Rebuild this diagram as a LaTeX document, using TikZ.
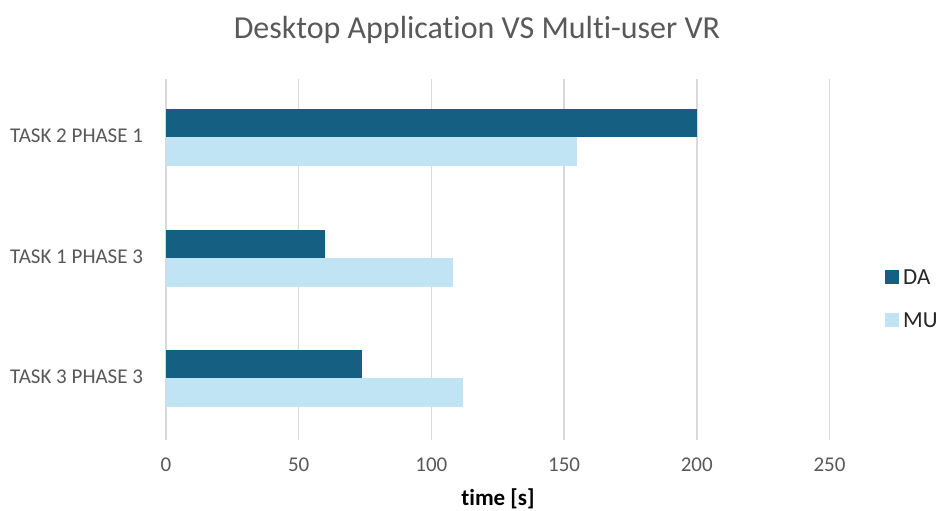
\documentclass[tikz,border=0pt]{standalone}
\usepackage{fontspec}
\setmainfont{Carlito}[Ligatures={NoCommon}]
\definecolor{daBlue}{HTML}{156082}
\definecolor{muBlue}{HTML}{C1E4F5}
\definecolor{gridGray}{HTML}{D9D9D9}
\definecolor{txtGray}{HTML}{595959}
\begin{document}
\begin{tikzpicture}[x=1pt,y=-1pt,
  gridline/.style={draw=gridGray,line width=1.5pt},
  dabar/.style={fill=daBlue},
  mubar/.style={fill=muBlue},
  catlabel/.style={anchor=west,text=txtGray,font=\fontsize{21}{23}\selectfont,inner sep=0pt},
  ticklabel/.style={text=txtGray,font=\fontsize{21}{23}\selectfont,inner sep=0pt},
  legtext/.style={anchor=west,text=black!85,font=\fontsize{23}{25}\selectfont,inner sep=0pt},
  legbox/.style={minimum size=14pt,inner sep=0pt}]
\useasboundingbox (0,0) rectangle (937,511);
\fill[white] (0,0) rectangle (937,511);
% gridlines and ticks
\foreach \v/\n in {0/g0,50/g50,100/g100,150/g150,200/g200,250/g250}{
  \draw[gridline] ({166+2.654*\v},79) -- ({166+2.654*\v},440);
  \node[ticklabel] (\n) at ({166+2.654*\v},465) {\v};
}
% bars
\fill[dabar] (166,109) rectangle ({166+2.654*200},137.3);
\fill[mubar] (166,137.3) rectangle ({166+2.654*155},166);
\fill[dabar] (166,229.5) rectangle ({166+2.654*60},258);
\fill[mubar] (166,258) rectangle ({166+2.654*108},286.7);
\fill[dabar] (166,350) rectangle ({166+2.654*74},378.3);
\fill[mubar] (166,378.3) rectangle ({166+2.654*112},406.7);
% category labels
\node[catlabel] (c1) at (10,136) {TASK 2 PHASE 1};
\node[catlabel] (c2) at (10,257) {TASK 1 PHASE 3};
\node[catlabel] (c3) at (10,377) {TASK 3 PHASE 3};
% title
\node[text=txtGray,font=\fontsize{32}{34}\selectfont] (title) at (477,30) {Desktop Application VS Multi-user VR};
% axis title
\node[font=\bfseries\fontsize{23}{25}\selectfont] (xlabel) at (498,499) {time [s]};
% legend
\node[legbox,fill=daBlue] (lda) at (892,277) {};
\node[legtext] (tda) at (903,277) {DA};
\node[legbox,fill=muBlue] (lmu) at (892,320) {};
\node[legtext] (tmu) at (903,320) {MU};
\end{tikzpicture}
\end{document}
